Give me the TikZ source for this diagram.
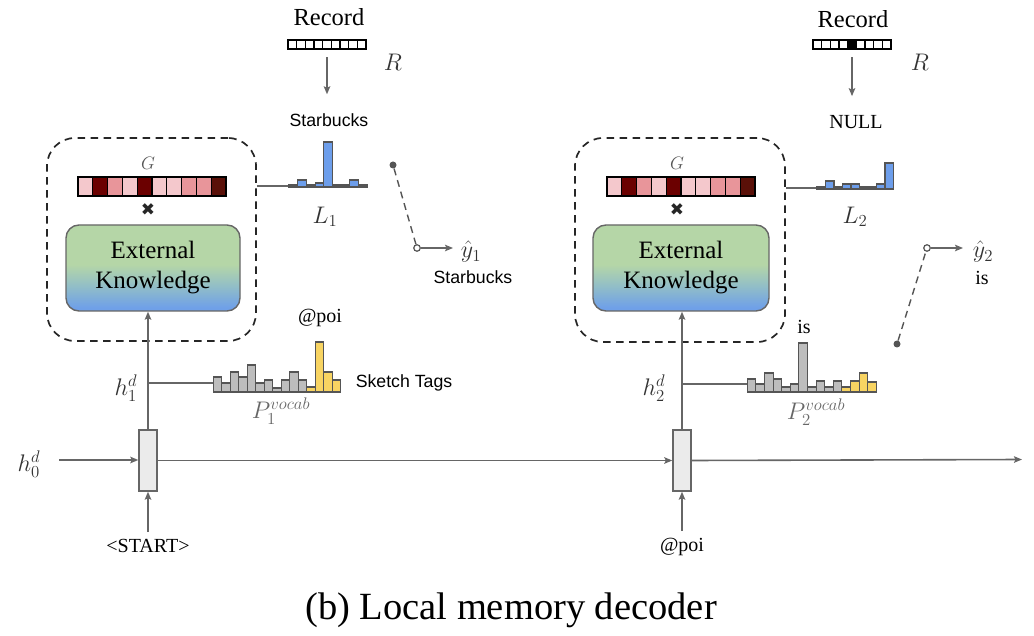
\documentclass[tikz,border=0pt]{standalone}
\usepackage{fix-cm}
\usepackage[no-math]{fontspec}
\setmainfont{Liberation Serif}
\newfontfamily\labelsans{Liberation Sans}
\newfontfamily\symfont{DejaVu Sans}
\usetikzlibrary{arrows.meta}

\definecolor{linegray}{HTML}{666666}
\definecolor{edgegray}{HTML}{555555}
\definecolor{txtgray}{HTML}{333333}
\definecolor{cellfill}{HTML}{EBEBEB}
\definecolor{barblue}{HTML}{6D9EEB}
\definecolor{bargray}{HTML}{BDBDBD}
\definecolor{baryellow}{HTML}{F8D462}
\definecolor{gLight}{HTML}{F4C8CC}
\definecolor{gMid}{HTML}{E8959A}
\definecolor{gDark}{HTML}{6B0000}
\definecolor{gDeep}{HTML}{5A1008}
\definecolor{ekgreen}{HTML}{B5D6A7}
\definecolor{ekmid}{HTML}{93BFC6}
\definecolor{ekblue}{HTML}{6FA0E8}

\pgfdeclareverticalshading{ekshade}{100bp}{color(0bp)=(ekblue); color(27bp)=(ekblue); color(40bp)=(ekmid); color(52bp)=(ekgreen); color(100bp)=(ekgreen)}

% bars of a histogram: x0, base y, bar width, heights, fill
\newcommand\drawbars[5]{%
  \foreach \hh [count=\i from 0] in {#4}{%
    \draw[histedge, fill=#5] ({#1+\i*#3},#2) rectangle ++(#3,-\hh);
  }%
}
% a strip of cells: left x, top y, cell width, height, list of fills
\newcommand\drawcells[5]{%
  \foreach \cc [count=\i from 0] in {#5}{%
    \draw[celledge, fill=\cc] ({#1+\i*#3},#2) rectangle ++(#3,#4);
  }%
}

\tikzset{
  conn/.style={draw=linegray, line width=1.6pt},
  arr/.style={conn, -{Stealth[length=8pt,width=6.5pt,inset=1.5pt]}},
  histedge/.style={draw=edgegray, line width=1.1pt},
  celledge/.style={draw=black, line width=1.1pt},
  memframe/.style={draw=black!85, dashed, dash pattern=on 7.5pt off 5.5pt, line width=1.7pt,
    rounded corners=28pt, inner sep=0pt},
  ekbox/.style={draw=linegray, line width=1.4pt, rounded corners=13pt, shading=ekshade,
    align=center, font=\fontsize{25}{30}\selectfont, inner sep=0pt},
  rnncell/.style={draw=linegray, line width=1.4pt, fill=cellfill, inner sep=0pt,
    minimum width=18pt, minimum height=61pt},
  serifbig/.style={font=\fontsize{24.5}{28}\selectfont, inner sep=0pt},
  seriftxt/.style={font=\fontsize{20}{24}\selectfont, inner sep=0pt},
  sanstxt/.style={font=\labelsans\fontsize{17.7}{21}\selectfont, inner sep=0pt},
  mathlbl/.style={font=\fontsize{24}{28}\selectfont, text=txtgray, inner sep=0pt},
  timeslbl/.style={font=\symfont\fontsize{17}{18}\selectfont, text=black!85, inner sep=0pt},
  switchline/.style={draw=edgegray, dashed, dash pattern=on 7pt off 5pt, line width=1.4pt},
  closeddot/.style={circle, fill=edgegray, inner sep=0pt, minimum size=7pt},
  opendot/.style={circle, draw=edgegray, fill=white, line width=1.2pt, inner sep=0pt, minimum size=6.5pt},
}

\begin{document}
\begin{tikzpicture}[x=1pt, y=-1pt]
\useasboundingbox (0,0) rectangle (1034,636);

% ================= step 1 =================
% memory block
\node[memframe, minimum width=209pt, minimum height=203pt] (mem1) at (151.5,239.5) {};
\node[font=\fontsize{18}{20}\selectfont, text=edgegray, inner sep=0pt] (g1t) at (148,163) {$G$};
\node[inner sep=0pt, minimum width=148pt, minimum height=19pt] (g1) at (152,186.5) {};
\drawcells{78}{177}{14.8}{19}{gLight,gDark,gMid,gLight,gDark,gLight,gLight,gMid,gMid,gDeep}
\node[timeslbl] (x1) at (148,210) {✖};
\node[ekbox, minimum width=174pt, minimum height=86pt] (ek1) at (153,268) {External\\Knowledge};

% record and local memory pointer
\node[serifbig] (rec1t) at (329,17) {Record};
\node[inner sep=0pt, minimum width=78pt, minimum height=9pt] (rec1) at (327,44.5) {};
\drawcells{288}{40}{8.667}{9}{white,white,white,white,white,white,white,white,white}
\node[mathlbl] (r1) at (393,62) {$R$};
\node[sanstxt] (star1) at (329,120) {Starbucks};
\draw[arr, shorten <=8pt, shorten >=19pt] (rec1.south) -- (rec1.south |- star1.north);

\coordinate (l1in) at (289,186);
\draw[conn] (mem1.east |- l1in) -- (l1in);
\drawbars{289}{187}{8.7}{2,7,2,4,45,2,2,7,2}{barblue}
\node[mathlbl] (l1) at (325,217) {$L_1$};

% output switch
\node[closeddot] (sw1a) at (393,165) {};
\node[opendot] (sw1b) at (417,248) {};
\draw[switchline] (sw1a) -- (sw1b);
\coordinate (y1tip) at (453,248);
\draw[arr] (sw1b) -- (y1tip);
\node[mathlbl] (y1) at (471,252) {$\hat{y}_1$};
\node[sanstxt] (star1b) at (473,277) {Starbucks};

% decoder cell and vocabulary distribution
\node[rnncell] (cell1) at (148,460.5) {};
\draw[arr] (cell1.north) -- (cell1.north |- ek1.south);
\coordinate (p1in) at (213.3,383);
\draw[conn] (cell1.north |- p1in) -- (p1in);
\drawbars{213.3}{392}{8.5}{15,9,20,15,27,9,12,4,12,20,12}{bargray}
\drawbars{306.8}{392}{8.5}{5,50,20,12}{baryellow}
\node[seriftxt] (poi1) at (320,318) {@poi};
\node[sanstxt] (tags) at (404,383) {Sketch Tags};
\node[mathlbl, text=linegray] (p1) at (281,411) {$P_1^{vocab}$};
\node[mathlbl] (h1) at (126,388) {$h_1^d$};

\node[mathlbl] (h0) at (29,464) {$h_0^d$};
\coordinate (h0in) at (59,460);
\draw[arr] (h0in) -- (cell1.west |- h0in);
\node[seriftxt] (start) at (148,546) {<START>};
\draw[arr, shorten <=7pt] (start.north) -- (cell1.south);

% ================= step 2 =================
\node[memframe, minimum width=210pt, minimum height=204pt] (mem2) at (680,240) {};
\node[font=\fontsize{18}{20}\selectfont, text=edgegray, inner sep=0pt] (g2t) at (677,163) {$G$};
\node[inner sep=0pt, minimum width=148pt, minimum height=19pt] (g2) at (681,186.5) {};
\drawcells{607}{177}{14.8}{19}{gLight,gDark,gMid,gLight,gDark,gLight,gLight,gMid,gMid,gDeep}
\node[timeslbl] (x2) at (677,210) {✖};
\node[ekbox, minimum width=176pt, minimum height=86pt] (ek2) at (681,268) {External\\Knowledge};

\node[serifbig] (rec2t) at (853,19) {Record};
\node[inner sep=0pt, minimum width=78pt, minimum height=9pt] (rec2) at (852,44.5) {};
\drawcells{813}{40}{8.667}{9}{white,white,white,white,black,white,white,white,white}
\node[mathlbl] (r2) at (920,62) {$R$};
\node[seriftxt] (null) at (856,122) {NULL};
\draw[arr, shorten <=8pt, shorten >=19pt] (rec2.south) -- (rec2.south |- null.north);

\coordinate (l2in) at (817,188);
\draw[conn] (mem2.east |- l2in) -- (l2in);
\drawbars{817}{189}{8.5}{2,8,2,5,5,2,2,5,26}{barblue}
\node[mathlbl] (l2) at (855,217) {$L_2$};

\node[closeddot] (sw2a) at (897,344) {};
\node[opendot] (sw2b) at (927,248) {};
\draw[switchline] (sw2a) -- (sw2b);
\coordinate (y2tip) at (963,248);
\draw[arr] (sw2b) -- (y2tip);
\node[mathlbl] (y2) at (983,252) {$\hat{y}_2$};
\node[seriftxt] (is2) at (982,278) {is};

\node[rnncell] (cell2) at (682,460.5) {};
\draw[arr] (cell2.north) -- (cell2.north |- ek2.south);
\coordinate (p2in) at (747.3,384);
\draw[conn] (cell2.north |- p2in) -- (p2in);
\drawbars{747.3}{392}{8.6}{13,8,19,13,5,8,49,5,11,5,11}{bargray}
\drawbars{841.9}{392}{8.6}{5,11,19,10}{baryellow}
\node[seriftxt] (is1) at (804,327) {is};
\node[mathlbl, text=linegray] (p2) at (816,412) {$P_2^{vocab}$};
\node[mathlbl] (h2) at (654,388) {$h_2^d$};

\node[seriftxt] (poi2) at (682,547) {@poi};
\draw[arr, shorten <=7pt] (poi2.north) -- (cell2.south);

% recurrent state
\draw[arr] (cell1.east) -- (cell2.west);
\coordinate (hout) at (1022,459.5);
\draw[arr] (cell2.east) -- (hout);

% caption
\node[font=\fontsize{38.5}{44}\selectfont, inner sep=0pt] (cap) at (511,610) {(b) Local memory decoder};
\end{tikzpicture}
\end{document}
